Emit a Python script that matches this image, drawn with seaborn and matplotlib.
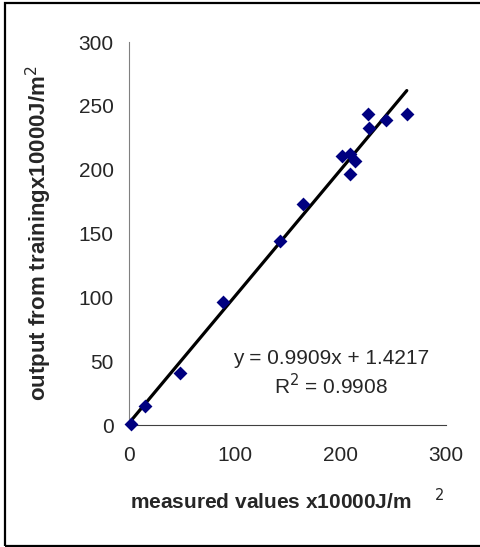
import numpy as np
import pandas as pd
import matplotlib
matplotlib.use("Agg")
import matplotlib.pyplot as plt
import seaborn as sns
from matplotlib.patches import Rectangle

# data
measured = [2, 15, 48, 89, 143, 165, 202, 209, 214, 209, 226, 227, 243, 263]
output = [1, 15, 41, 96, 144, 173, 211, 212, 207, 197, 244, 233, 239, 244]
slope = 0.9909
intercept = 1.4217
r2 = 0.9908
ticks = [0, 50, 100, 150, 200, 250, 300]
xticks = [0, 100, 200, 300]

sns.set_style("white")
plt.rcParams['font.family'] = ['Liberation Sans', 'DejaVu Sans']

df = pd.DataFrame({'measured': measured, 'output': output})
x_fit = np.array([min(measured), max(measured)])
fit = pd.DataFrame({'x': x_fit, 'y': slope * x_fit + intercept})

fig = plt.figure(figsize=(4.81, 5.47), dpi=100)
ax = fig.add_axes([0.268, 0.223, 0.659, 0.700])

sns.lineplot(data=fit, x='x', y='y', color='black', linewidth=2.3, ax=ax, zorder=2)
sns.scatterplot(data=df, x='measured', y='output', marker='D', s=50,
                color='#000080', edgecolor='#000080', linewidth=0, ax=ax, zorder=3)

ax.set_xlim(0, 300)
ax.set_ylim(0, 300)
ax.set_xticks(xticks)
ax.set_yticks(ticks)
ax.tick_params(axis='y', direction='out', length=5, width=1, color='#808080', labelsize=15, pad=6)
ax.tick_params(axis='x', direction='in', length=5, width=1, color='#404040', labelsize=15, pad=15)
for s in ['top', 'right']:
    ax.spines[s].set_visible(False)
ax.spines['left'].set_color('#808080')
ax.spines['bottom'].set_color('#404040')
ax.set_xlabel('measured values x10000J/m    $^{2}$', fontsize=15, fontweight='bold')
ax.set_ylabel('output from trainingx10000J/m$^{2}$', fontsize=16, fontweight='bold')
ax.xaxis.set_label_coords(0.5, -0.165)
ax.yaxis.set_label_coords(-0.237, 0.5)
for c in ax.collections:
    c.set_clip_on(False)

ax.text(191, 52.5, 'y = 0.9909x + 1.4217', ha='center', va='center', fontsize=15)
ax.text(191, 31, 'R$^{2}$ = 0.9908', ha='center', va='center', fontsize=15)

fig.patches.append(Rectangle((5 / 481, 1 - 546 / 547), 0.995, 0.999 - 4 / 547 + 1 / 547,
                             transform=fig.transFigure, fill=False,
                             edgecolor='black', linewidth=1.6))

fig.savefig('out.png', dpi=100)
